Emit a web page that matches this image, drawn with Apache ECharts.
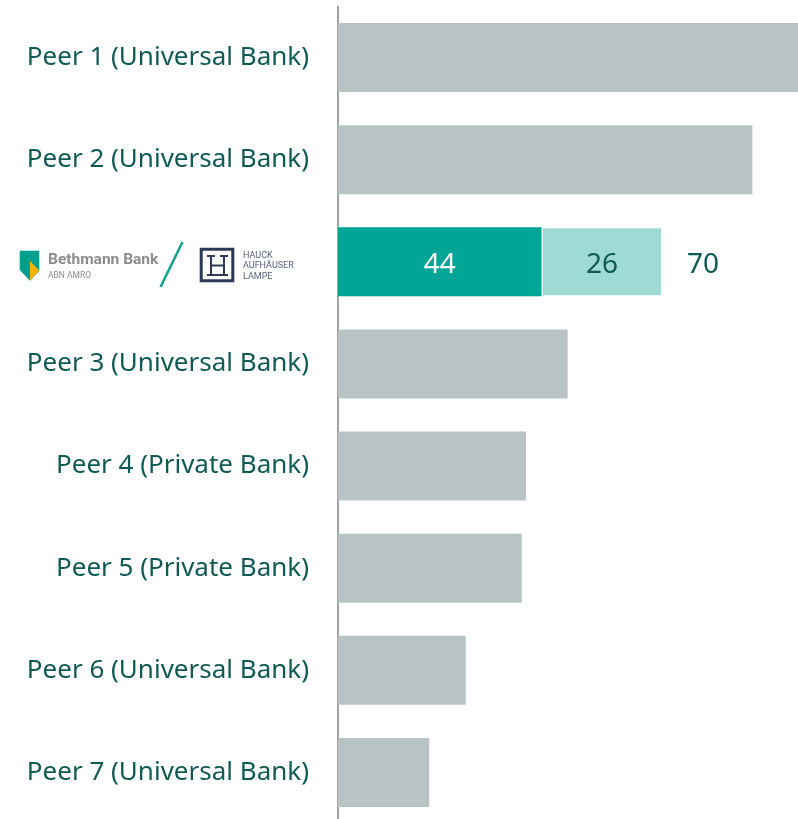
<!DOCTYPE html>
<html>
<head>
<meta charset="utf-8">
<script src="https://cdn.jsdelivr.net/npm/echarts@6/dist/echarts.min.js"></script>
<style>
  html, body { margin: 0; padding: 0; background: #fff; }
  #chart { width: 798px; height: 819px; }
</style>
</head>
<body>
<div id="chart"></div>
<script>
const categories = [
  "Peer 1 (Universal Bank)",
  "Peer 2 (Universal Bank)",
  "Bethmann Bank / Hauck Aufhäuser Lampe",
  "Peer 3 (Universal Bank)",
  "Peer 4 (Private Bank)",
  "Peer 5 (Private Bank)",
  "Peer 6 (Universal Bank)",
  "Peer 7 (Universal Bank)"
];
const peerValues = [99.5, 89.5, null, 49.6, 40.6, 39.7, 27.6, 19.7];
const bethmannValues = [null, null, 44, null, null, null, null, null];
const halValues = [null, null, 26, null, null, null, null, null];
const totalValues = [null, null, 70, null, null, null, null, null];
const logoIndex = 2;

const textColor = "#0f5a55";
const labelFont = "Noto Sans";
const navy = "#2c3a55";

// Initialize ECharts instance
const chart = echarts.init(document.getElementById("chart"));

// logo drawn in place of the third axis label (absolute pixel coords)
const halLines = [
  [207, 256, 215, 256],
  [211, 256, 211, 275],
  [207, 275, 228, 275],
  [211, 265.5, 224, 265.5],
  [224, 256, 224, 275],
  [220, 256, 228, 256]
];
const logo = {
  type: "group",
  children: [
    { type: "polygon", shape: { points: [[19.7, 250.7], [39.3, 250.7], [39.3, 271], [30, 280.7], [19.7, 270]] }, style: { fill: "#00a08e" } },
    { type: "polygon", shape: { points: [[30, 261], [39.3, 270.5], [30, 280.5]] }, style: { fill: "#f7b500" } },
    { type: "text", x: 48, y: 260.5, style: { text: "Bethmann Bank", font: "bold 15.5px 'Roboto'", fill: "#8c8c8c", verticalAlign: "middle" } },
    { type: "text", x: 48, y: 275.5, style: { text: "ABN AMRO", font: "8.5px 'Roboto'", fill: "#8c8c8c", verticalAlign: "middle" } },
    { type: "line", shape: { x1: 182.5, y1: 242, x2: 160.5, y2: 287 }, style: { stroke: "#12a08f", lineWidth: 2.5 } },
    { type: "rect", shape: { x: 201.2, y: 249.2, width: 31.6, height: 31.6 }, style: { fill: "none", stroke: navy, lineWidth: 3 } }
  ].concat(halLines.map(l => ({
    type: "line",
    shape: { x1: l[0], y1: l[1], x2: l[2], y2: l[3] },
    style: { stroke: navy, lineWidth: 2 }
  }))).concat([
    { type: "text", x: 243, y: 255.5, style: { text: "HAUCK", font: "9px 'Roboto'", fill: "#55627d", verticalAlign: "middle" } },
    { type: "text", x: 243, y: 266, style: { text: "AUFHÄUSER", font: "9px 'Roboto'", fill: "#55627d", verticalAlign: "middle" } },
    { type: "text", x: 243, y: 276.5, style: { text: "LAMPE", font: "9px 'Roboto'", fill: "#55627d", verticalAlign: "middle" } }
  ])
};

const valueLabel = {
  show: true,
  fontSize: 28,
  fontFamily: labelFont,
  offset: [0, 3.5]
};

const options = {
  animation: false,
  grid: { left: 338, top: 6.5, width: 463, height: 817, outerBoundsMode: "none" },
  xAxis: {
    type: "value",
    min: 0,
    max: 100,
    show: false
  },
  yAxis: {
    type: "category",
    data: categories,
    inverse: true,
    axisLine: { show: true, lineStyle: { color: "#a3a3a3", width: 2 } },
    axisTick: { show: false },
    axisLabel: {
      margin: 29,
      fontSize: 26,
      fontFamily: labelFont,
      color: textColor,
      padding: [8, 0, 0, 0],
      formatter: (v, i) => (i === logoIndex ? "" : v)
    }
  },
  graphic: [logo],
  series: [
    {
      type: "bar",
      stack: "a",
      data: peerValues,
      barWidth: 69,
      itemStyle: { color: "#b8c3c6" }
    },
    {
      type: "bar",
      stack: "a",
      data: bethmannValues,
      barWidth: 69,
      itemStyle: { color: "#00a595" },
      label: Object.assign({}, valueLabel, { position: "inside", color: "#ffffff" })
    },
    {
      type: "bar",
      stack: "a",
      data: halValues,
      barWidth: 69,
      itemStyle: { color: "#9fdbd5", borderColor: "#ffffff", borderWidth: 1 },
      label: Object.assign({}, valueLabel, { position: "inside", color: textColor })
    },
    {
      type: "bar",
      stack: "a",
      data: totalValues.map(v => (v == null ? null : 0)),
      barWidth: 69,
      itemStyle: { color: "transparent" },
      label: Object.assign({}, valueLabel, {
        position: "right",
        distance: 25,
        color: textColor,
        formatter: p => totalValues[p.dataIndex]
      })
    }
  ]
};

// Set options and render the chart
chart.setOption(options);
</script>
</body>
</html>
